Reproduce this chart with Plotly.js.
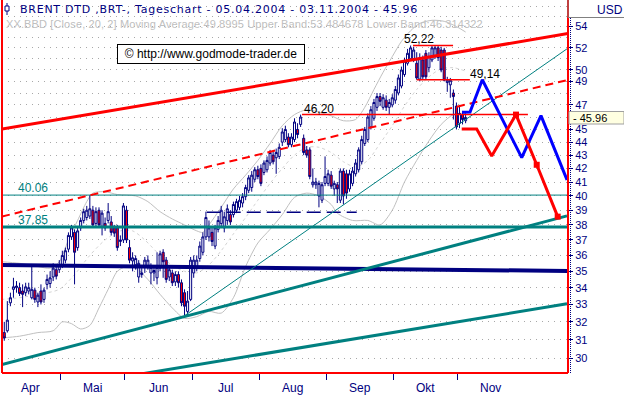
<!DOCTYPE html>
<html><head><meta charset="utf-8">
<script src="https://cdn.plot.ly/plotly-3.0.1.min.js"></script>
<style>html,body{margin:0;padding:0;background:#fff;}#chart{width:624px;height:396px;}
#chart g.annotation[data-index="0"] text{letter-spacing:0.75px;}
#chart g.annotation[data-index="1"] text{letter-spacing:0.12px;}
</style>
</head><body><div id="chart"></div>
<script>
// ---- Daily OHLC, trading days 05.04.2004 - 03.11.2004 ----
const openP = [31.5,31.4,31.5,33.1,33.9,34.0,34.0,33.8,33.7,33.8,33.4,33.85,33.15,33.8,33.3,34.2,34.25,34.65,35.1,35.1,
35.4,35.7,36.4,37.2,37.5,36.5,37.8,38.3,38.5,38.6,39.0,38.1,39.0,37.9,38.1,38.3,38.2,37.8,37.8,36.9,37.0,
39.0,36.5,35.65,35.4,34.65,34.8,35.3,35.35,34.9,34.9,34.6,35.2,36.2,35.7,34.65,34.9,34.35,34.8,34.3,33.7,32.6,33.3,
34.9,35.3,35.8,36.2,37.2,37.2,37.5,36.6,37.7,38.1,37.8,38.3,38.7,38.7,39.0,39.2,39.5,39.95,40.4,40.6,41.2,41.9,
42.0,41.7,41.9,42.4,43.0,42.8,42.9,44.0,44.2,44.4,43.8,44.2,45.0,45.4,44.3,43.4,43.4,40.8,40.8,40.0,39.7,40.9,
40.9,41.5,40.5,40.8,39.7,41.8,41.6,40.5,40.9,41.6,41.9,42.5,43.9,44.2,45.2,45.9,46.8,47.7,46.8,47.4,46.8,47.0,
47.4,48.0,48.6,49.6,50.6,51.0,51.0,50.6,49.2,50.9,51.5,50.2,50.9,51.2,52.0,51.8,51.8,48.9,48.7,48.0,46.9,
45.5,46.2,45.7];
const highP = [31.8,32.0,33.2,33.7,34.6,34.4,34.3,34.2,34.3,34.3,35.3,34.0,33.7,34.2,34.0,34.8,35.0,35.5,35.4,35.7,
36.3,36.5,37.5,38.0,37.7,37.9,38.5,39.1,39.3,40.06,39.3,39.2,39.2,39.0,38.5,39.5,38.6,38.0,38.0,37.3,39.5,
39.3,37.0,36.2,36.0,35.7,35.2,35.9,36.0,35.5,35.3,36.2,36.3,36.4,35.9,35.3,35.1,35.0,35.0,34.5,33.9,33.8,35.9,
36.0,36.0,36.9,37.5,38.9,38.3,37.9,38.0,38.6,39.3,38.9,39.4,39.0,39.6,39.8,40.0,40.2,40.8,41.5,41.8,42.1,42.2,
42.3,42.6,42.9,43.4,43.3,43.5,43.9,45.1,45.3,44.7,44.7,45.9,45.5,46.2,44.6,43.7,43.6,42.0,41.3,41.1,41.0,42.9,
41.9,41.8,41.1,41.0,42.0,42.0,41.9,41.9,42.1,42.7,43.6,44.5,45.2,46.3,46.9,47.5,48.0,48.0,47.9,47.8,47.5,47.9,
48.6,49.6,50.3,51.1,51.9,52.22,52.1,51.6,51.5,51.3,51.8,51.6,52.22,52.2,52.22,52.1,52.0,49.4,49.3,48.3,47.2,
47.0,46.5,46.3];
const lowP = [30.9,30.95,31.4,32.9,33.4,33.7,33.5,32.85,33.5,33.6,33.3,33.1,32.85,33.0,33.1,33.9,34.0,34.4,34.5,34.9,
35.2,35.5,36.2,37.0,34.2,36.3,37.6,38.1,38.3,38.4,37.8,37.9,37.8,37.3,37.6,38.1,37.3,37.2,36.3,36.6,36.8,
36.8,35.5,35.0,35.1,34.3,34.6,34.9,35.1,34.2,34.4,34.2,35.0,34.6,34.3,34.4,34.1,34.1,34.0,32.9,32.3,32.3,33.2,
34.6,35.0,35.6,36.0,37.0,36.9,36.6,36.4,37.5,37.9,37.5,38.0,38.0,38.5,38.8,39.0,39.2,39.7,40.2,40.3,41.0,41.2,
40.7,41.5,41.7,42.2,42.3,41.6,42.7,43.7,44.0,43.6,43.6,44.0,44.3,45.2,43.0,42.8,41.2,40.6,40.5,39.2,39.5,40.7,
40.7,40.5,40.0,39.5,39.5,39.4,39.8,40.3,40.7,41.4,41.7,42.3,43.7,44.0,45.0,45.7,46.5,46.9,46.6,46.5,46.2,46.8,
47.1,47.8,48.4,49.4,50.4,50.8,50.7,49.14,49.0,49.2,49.2,49.8,50.7,51.0,50.8,49.8,49.0,48.1,47.6,45.8,45.0,
45.1,45.4,45.5];
const closeP = [31.3,31.1,32.1,33.4,34.05,34.1,33.65,33.6,34.05,34.0,33.9,33.3,33.55,33.15,33.85,34.5,34.6,35.2,34.7,35.4,
36.0,36.3,37.3,37.8,36.2,37.6,38.3,38.9,39.0,39.1,38.0,38.9,38.0,38.8,37.8,38.9,37.5,37.45,36.5,37.0,39.3,
37.0,35.7,35.85,35.8,35.5,34.9,35.7,35.7,35.25,35.05,35.25,36.1,35.6,34.5,35.1,34.3,34.8,34.3,33.1,32.9,33.2,35.7,
35.7,35.7,36.6,37.2,38.5,37.8,36.9,37.8,38.3,39.0,38.55,39.1,38.2,39.4,39.6,39.7,39.95,40.6,41.3,41.5,41.9,41.4,
40.9,42.4,42.6,43.2,42.5,43.2,43.6,44.8,45.0,43.8,44.4,45.6,44.6,46.0,43.2,43.0,41.4,41.0,41.0,40.9,40.8,41.4,
41.6,40.7,40.9,40.5,41.8,40.0,40.2,41.6,41.8,42.4,43.4,44.2,45.0,46.0,46.6,47.2,47.7,47.3,47.6,46.8,47.2,47.6,
48.3,49.3,50.0,50.8,51.5,52.0,51.8,49.3,51.1,49.4,49.4,51.2,52.0,52.0,51.1,50.0,49.1,49.1,49.1,47.7,45.2,
46.3,45.8,45.96];

// month axis (first trading-day index of each month)
const monthNames = ['Apr','Mai','Jun','Jul','Aug','Sep','Okt','Nov'];
const monthFirstBar = [0,20,41,63,85,107,129,150];
const monthCenter = [9.5,30,51.5,73.5,95.5,117.5,139,160];

// price axis
const priceLabels = [30,31,32,33,34,35,36,37,38,39,40,41,42,43,44,45,47,49,50,52,54];
const gridLevels = [30,31,32,33,34,35,36,37,38,39,40,41,42,43,44,45,46,47,48,49,50,51,52,53,54,55,56];
const lastPrice = 45.96;

// Bollinger (20,2)
const bbX     = [0,6,12,16,19,22,25,28,30,34,38,44,48,52,56,60,64,66,68,72,76,80,84,88,92,96,100,104,108,112,116,119,122,125,128,131,134,137,141,145,149,152];
const bbUpper = [35.6,35.5,35.3,35.2,35.6,37.0,38.3,39.6,40.2,40.3,40.1,40.0,39.6,38.9,38.4,38.0,37.6,37.5,38.0,39.2,40.5,41.5,42.6,43.9,45.3,46.2,46.6,46.4,46.1,45.7,45.8,46.8,48.3,49.8,51.2,52.6,53.6,54.3,54.6,54.5,54.0,53.48];
const maX     = [0,6,12,19,24,29,34,39,43,47,51,55,60,64,68,72,76,80,84,88,92,96,100,104,108,112,116,120,124,128,132,136,140,144,148,152];
const maVal   = [33.3,33.4,33.6,33.9,34.8,36.0,37.0,37.6,37.6,37.0,36.2,35.5,35.0,34.9,35.4,36.3,37.4,38.5,39.7,40.9,42.0,43.0,43.6,43.6,43.2,42.5,42.1,42.6,43.9,45.3,46.9,48.3,49.4,50.1,50.2,49.90];
const lbX     = [0,6,12,17,20,23,26,29,32,35,38,41,44,48,52,56,60,64,68,72,76,80,84,88,92,96,100,104,108,110,115,120,124,128,132,136,140,144,148,152];
const bbLower = [31.1,31.2,31.4,31.5,32.0,31.9,31.6,31.8,32.8,33.9,35.0,35.3,35.2,34.5,33.6,32.8,32.2,32.3,32.6,32.5,33.4,35.3,36.8,37.7,38.7,39.9,40.2,40.0,39.4,38.8,38.3,38.3,38.0,39.0,41.0,42.6,44.1,45.4,46.2,46.31];

// trend lines (bar index, price)
const resistX = [0.25,185.5],  resistY = [45.03,53.33];
const midDashX = [0.25,185.5], midDashY = [38.57,49.13];
const supportThickX = [0.25,185.2], supportThickY = [29.67,38.61];
const supportThinX = [59.6,185.2],  supportThinY = [32.3,51.91];
const lowerChanX = [40,185.2], lowerChanY = [29.03,33.04];
const level4006 = 40.06, level3785 = 37.85;
const navyX = [0.25,185.5], navyY = [35.39,35.02];
const dashNavyX = [67.26,116.36], dashNavyY = [38.86,38.86];
const line4620X = [98.45,172.4], line5222X = [134.8,147.9], line4914X = [136.0,153.4];
// projections
const blueX = [150.82,153.45,157.47,170.37,176.68,185.2];
const blueY = [46.4,46.42,49.14,42.81,46.12,41.15];
const redX  = [150.73,155.64,160.55,168.5,175.28,182.15];
const redY  = [45.04,45.04,42.94,46.2,42.27,38.56];
const redMarkX = [168.5,175.28,182.15], redMarkY = [46.2,42.27,38.56];

const bars = closeP.map((_, i) => i);
const NAVY='#000080', RED='#ff0000', TEAL='#008080', BLUE='#0000ff', GRAY='#c0c0c0';
const XR = [0.252,185.52];
const YR = [Math.log10(29.23), Math.log10(56.6)];

function ln(x,y,color,width,dash,axis){
  return {type:'scatter',mode:'lines',x:x,y:y,xaxis:'x',yaxis:axis||'y2',
    line:{color:color,width:width,dash:dash||'solid'},hoverinfo:'skip'};
}
const full = XR;
const traces = [
  {type:'scatter',mode:'lines',x:bbX,y:bbUpper,xaxis:'x',yaxis:'y',line:{color:GRAY,width:1,shape:'spline',smoothing:0.8},hoverinfo:'skip'},
  {type:'scatter',mode:'lines',x:maX,y:maVal,xaxis:'x',yaxis:'y',line:{color:'#d4d4d4',width:1,dash:'3px,3px',shape:'spline',smoothing:0.8},hoverinfo:'skip'},
  {type:'scatter',mode:'lines',x:lbX,y:bbLower,xaxis:'x',yaxis:'y',line:{color:GRAY,width:1,shape:'spline',smoothing:0.8},hoverinfo:'skip'},
  {type:'candlestick',x:bars,open:openP,high:highP,low:lowP,close:closeP,xaxis:'x',yaxis:'y2',
    whiskerwidth:0,
    increasing:{line:{color:NAVY,width:1},fillcolor:'#ffffff'},
    decreasing:{line:{color:NAVY,width:1},fillcolor:RED},hoverinfo:'skip'},
  ln(full,[level4006,level4006],TEAL,1),
  ln(full,[level3785,level3785],TEAL,3),
  ln(navyX,navyY,NAVY,4),
  ln(dashNavyX,dashNavyY,NAVY,1.5,'14px,6px'),
  ln(supportThickX,supportThickY,TEAL,3),
  ln(lowerChanX,lowerChanY,TEAL,3),
  ln(supportThinX,supportThinY,TEAL,1),
  ln(resistX,resistY,RED,3),
  ln(midDashX,midDashY,RED,2,'8px,5px'),
  ln(line4620X,[46.2,46.2],RED,1.5),
  ln(line5222X,[52.22,52.22],RED,1.5),
  ln(line4914X,[49.14,49.14],RED,1.5),
  ln(blueX,blueY,BLUE,3),
  ln(redX,redY,RED,3),
  {type:'scatter',mode:'markers',x:redMarkX,y:redMarkY,xaxis:'x',yaxis:'y2',marker:{symbol:'square',size:6,color:RED},hoverinfo:'skip'}
];

const px2paperX = p => (p-2)/566;
const py2paperY = p => (373-p)/373;

const annotations = [
  {xref:'paper',yref:'paper',x:px2paperX(18),y:py2paperY(9.5),xanchor:'left',yanchor:'middle',align:'left',showarrow:false,
   text:'BRENT DTD ,BRT-, Tageschart - 05.04.2004 - 03.11.2004 - 45.96',font:{family:'"DejaVu Sans", sans-serif',size:11,color:NAVY}},
  {xref:'paper',yref:'paper',x:px2paperX(4),y:py2paperY(24),xanchor:'left',yanchor:'middle',align:'left',showarrow:false,
   text:'XX.BBD [Close, 20, 2] Moving Average:49.8995 Upper Band:53.484678 Lower Band:46.314322',font:{size:11,color:'#c0c0c0'}},
  {xref:'paper',yref:'paper',x:px2paperX(211),y:py2paperY(54.5),xanchor:'center',yanchor:'middle',showarrow:false,
   text:'© http://www.godmode-trader.de',font:{size:12,color:'#000000'},bgcolor:'#ffffff',bordercolor:'#000000',borderwidth:1,borderpad:2,width:182},
  {xref:'paper',yref:'paper',x:px2paperX(610),y:py2paperY(9.5),xanchor:'center',yanchor:'middle',showarrow:false,
   text:'USD',font:{size:12,color:NAVY}},
  {xref:'paper',yref:'y',x:px2paperX(571),y:Math.log10(lastPrice),xanchor:'left',yanchor:'middle',showarrow:false,
   text:'- 45.96',font:{size:11,color:'#000000'}},
  {xref:'x',yref:'y',x:4.83,y:Math.log10(level4006),xanchor:'left',yanchor:'bottom',yshift:-2,showarrow:false,text:'40.06',font:{size:12,color:TEAL}},
  {xref:'x',yref:'y',x:4.83,y:Math.log10(level3785),xanchor:'left',yanchor:'bottom',yshift:-2,showarrow:false,text:'37.85',font:{size:12,color:TEAL}},
  {xref:'x',yref:'y',x:98.3,y:Math.log10(46.2),xanchor:'left',yanchor:'bottom',yshift:-3,showarrow:false,text:'46,20',font:{size:12,color:'#000000'}},
  {xref:'x',yref:'y',x:131.1,y:Math.log10(52.22),xanchor:'left',yanchor:'bottom',yshift:-3,showarrow:false,text:'52,22',font:{size:12,color:'#000000'}},
  {xref:'x',yref:'y',x:152.9,y:Math.log10(49.14),xanchor:'left',yanchor:'bottom',yshift:-3,showarrow:false,text:'49,14',font:{size:12,color:'#000000'}}
];
monthNames.forEach((m,k)=>annotations.push({xref:'x',yref:'paper',x:monthCenter[k],y:py2paperY(388),
  xanchor:'center',yanchor:'middle',showarrow:false,text:m,font:{size:12,color:NAVY}}));

const shapes = [
  {type:'line',xref:'paper',yref:'paper',x0:0,x1:0,y0:0,y1:1,line:{color:RED,width:2},layer:'above'},
  {type:'line',xref:'paper',yref:'paper',x0:1,x1:1,y0:0,y1:1,line:{color:RED,width:2},layer:'above'},
  {type:'line',xref:'paper',yref:'paper',x0:0,x1:1,y0:0,y1:0,line:{color:RED,width:2},layer:'above'},
  {type:'line',xref:'paper',yref:'paper',x0:px2paperX(570.5),x1:px2paperX(570.5),y0:0,y1:py2paperY(18),line:{color:NAVY,width:1,dash:'1px,1px'}},
  {type:'line',xref:'paper',yref:'paper',x0:px2paperX(568),x1:px2paperX(568),y0:py2paperY(17.5),y1:1,line:{color:'#808080',width:1}},
  {type:'line',xref:'paper',yref:'paper',x0:px2paperX(568),x1:px2paperX(624),y0:py2paperY(17.5),y1:py2paperY(17.5),line:{color:'#808080',width:1}},
  {type:'rect',xref:'paper',yref:'paper',x0:px2paperX(569),x1:px2paperX(624),y0:py2paperY(124),y1:py2paperY(111.5),fillcolor:'#ffffe1',line:{color:'#a0a0a0',width:1},layer:'above'},
  // title icon
  {type:'line',xref:'paper',yref:'paper',x0:px2paperX(7),x1:px2paperX(7),y0:py2paperY(3),y1:py2paperY(15),line:{color:NAVY,width:1},layer:'above'},
  {type:'rect',xref:'paper',yref:'paper',x0:px2paperX(5),x1:px2paperX(9),y0:py2paperY(11),y1:py2paperY(6),fillcolor:'#ffffff',line:{color:NAVY,width:1},layer:'above'}
];

const boundaries = monthFirstBar.slice(1).map(b=>b-0.5);

const layout = {
  width:624,height:396,margin:{l:2,r:56,t:0,b:23,pad:0},
  paper_bgcolor:'#ffffff',plot_bgcolor:'#ffffff',showlegend:false,hovermode:false,
  font:{family:'"Liberation Sans", Arial, sans-serif',size:12,color:NAVY},
  boxgap:0.05,
  xaxis:{range:XR,showgrid:false,zeroline:false,showline:false,tickmode:'array',tickvals:boundaries,
    ticktext:boundaries.map(()=>''),ticks:'outside',ticklen:6,tickwidth:1,tickcolor:NAVY,
    rangeslider:{visible:false},fixedrange:true},
  yaxis:{type:'log',range:YR,side:'right',tickmode:'array',tickvals:gridLevels,showticklabels:false,ticks:'',
    showgrid:true,gridcolor:'#a8a8a8',gridwidth:1,griddash:'1px,5px',zeroline:false,showline:false,fixedrange:true},
  yaxis2:{type:'log',range:YR,overlaying:'y',side:'right',tickmode:'array',tickvals:priceLabels,
    ticktext:priceLabels.map(String),ticks:'outside',ticklen:4,tickwidth:1,tickcolor:NAVY,showgrid:false,
    zeroline:false,showline:false,tickfont:{size:11,color:NAVY},fixedrange:true},
  annotations:annotations,shapes:shapes
};
Plotly.newPlot('chart',traces,layout,{staticPlot:true,displayModeBar:false});
</script></body></html>
